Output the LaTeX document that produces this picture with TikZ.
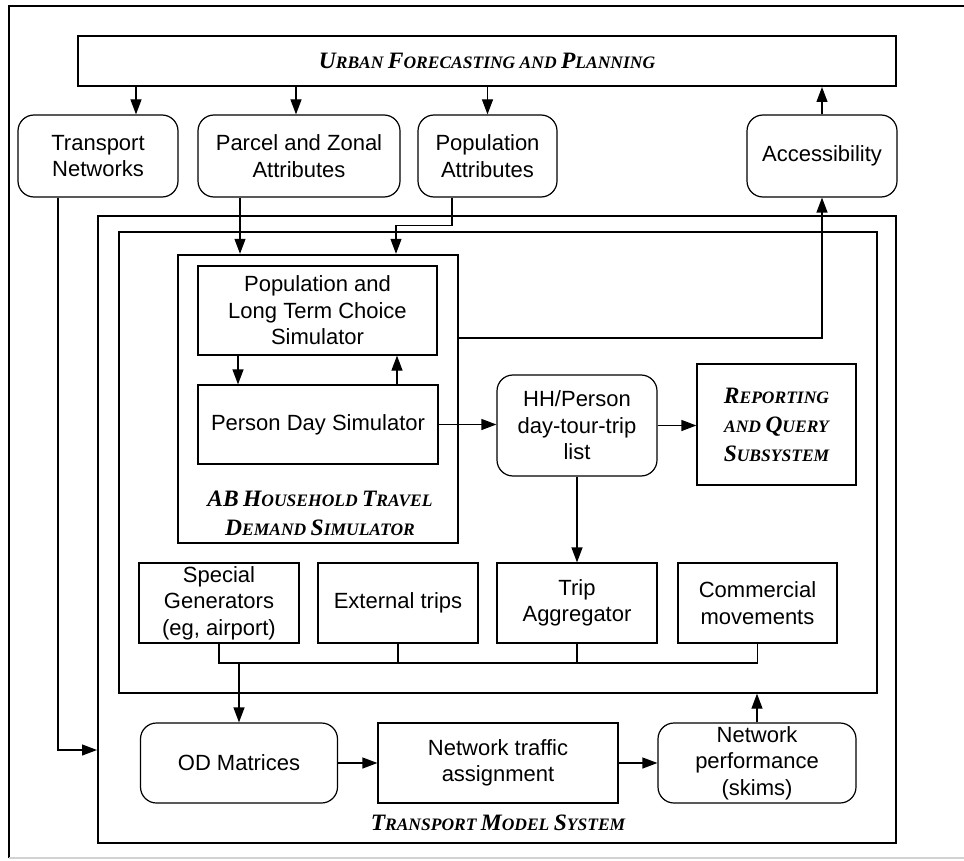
\documentclass[tikz,border=0pt]{standalone}
\usepackage{fontspec}
\setmainfont{Liberation Sans}
\newfontfamily\tfont{Liberation Serif}
\usetikzlibrary{arrows.meta,calc}
\newcommand\skc[2]{{\fontsize{23.5}{29}\selectfont #1}{\fontsize{17.5}{29}\selectfont #2}}
\begin{document}
\begin{tikzpicture}[x=1pt,y=-1pt,
  box/.style={draw,line width=1.2pt,inner sep=0pt,align=center,font=\fontsize{22}{26.5}\selectfont},
  rbox/.style={box,rounded corners=16pt},
  cont/.style={draw,inner sep=0pt},
  ttlfont/.style={font=\tfont\bfseries\itshape\fontsize{17.5}{29}\selectfont},
  ttl/.style={align=center,inner sep=0pt,ttlfont},
  conn/.style={line width=1.2pt},
  arr/.style={conn,-{Triangle[length=15pt,width=11pt]}}]
\useasboundingbox (0,0) rectangle (964,861);
% frame
\draw[line width=1.5pt] (964,6) -- (9,6) -- (9,858);
\draw[gray!35,line width=2.5pt] (9,858) -- (964,858);
% top bar
\node[box,line width=2pt,minimum width=818pt,minimum height=50pt,ttlfont] (bar) at (487,61)
  {\skc{U}{RBAN} \skc{F}{ORECASTING} \skc{}{AND} \skc{P}{LANNING}};
% top row
\node[rbox,minimum width=160pt,minimum height=82pt] (tn) at (98,156) {Transport\\Networks};
\node[rbox,minimum width=202pt,minimum height=82pt] (pz) at (299,156) {Parcel and Zonal\\Attributes};
\node[rbox,minimum width=139pt,minimum height=82pt] (pa) at (487.5,156) {Population\\Attributes};
\node[rbox,minimum width=150pt,minimum height=82pt] (acc) at (822,156) {Accessibility};
% containers
\node[cont,line width=2pt,minimum width=798pt,minimum height=627pt] (tms) at (497,529.5) {};
\node[cont,line width=1.3pt,minimum width=758pt,minimum height=461pt] (inner) at (498,462.5) {};
\node[cont,line width=2.4pt,minimum width=280pt,minimum height=288pt] (ab) at (318,399) {};
% AB contents
\node[box,minimum width=239pt,minimum height=89pt] (pop) at (317.5,310.5) {Population and\\Long Term Choice\\Simulator};
\node[box,minimum width=240pt,minimum height=79pt] (pds) at (318,424.5) {Person Day Simulator};
\node[ttl] (abt) at (320,513) {\skc{AB}{} \skc{H}{OUSEHOLD} \skc{T}{RAVEL}\\\skc{D}{EMAND} \skc{S}{IMULATOR}};
% middle
\node[rbox,minimum width=160pt,minimum height=101pt] (hh) at (577,425.5) {HH/Person\\day-tour-trip\\list};
\node[box,minimum width=159pt,minimum height=121pt,ttlfont] (rep) at (776.5,424.5)
  {\skc{R}{EPORTING}\\\skc{}{AND} \skc{Q}{UERY}\\\skc{S}{UBSYSTEM}};
% generators row
\node[box,minimum width=160pt,minimum height=80pt] (sg) at (219,603) {Special\\Generators\\(eg, airport)};
\node[box,minimum width=160pt,minimum height=80pt] (ext) at (398,603) {External trips};
\node[box,minimum width=160pt,minimum height=80pt] (ta) at (577,603) {Trip\\Aggregator};
\node[box,minimum width=159pt,minimum height=80pt] (cm) at (757.5,603) {Commercial\\movements};
% bottom row
\node[rbox,minimum width=197pt,minimum height=80pt] (od) at (239,763) {OD Matrices};
\node[box,minimum width=240pt,minimum height=80pt] (nta) at (498,763) {Network traffic\\assignment};
\node[rbox,minimum width=198pt,minimum height=80pt] (np) at (757,763) {Network\\performance\\(skims)};
\node[ttl] (tmst) at (498,823) {\skc{T}{RANSPORT} \skc{M}{ODEL} \skc{S}{YSTEM}};
% helper coordinates
\coordinate (tnY) at (0,750);
\coordinate (accY) at (0,338);
\coordinate (busY) at (0,663);
% connectors
\draw[arr] ([xshift=38pt]tn.north |- bar.south) -- ([xshift=38pt]tn.north);
\draw[arr] ([xshift=-3pt]pz.north |- bar.south) -- ([xshift=-3pt]pz.north);
\draw[arr] (pa.north |- bar.south) -- (pa.north);
\draw[arr] (acc.north) -- (acc.north |- bar.south);
\draw[arr] ([xshift=-59pt]pz.south) -- ([xshift=-59pt]pz.south |- ab.north);
\draw[arr] ([xshift=-35.5pt]pa.south) -- ++(0,28) -| ([xshift=78pt]ab.north);
\draw[arr] ([xshift=-40pt]tn.south) |- (tms.west |- tnY);
\draw[arr] (ab.east |- accY) -| (acc.south);
\draw[arr] ([xshift=-79.5pt]pop.south) -- ([xshift=-79.5pt]pop.south |- pds.north);
\draw[arr] ([xshift=79pt]pds.north) -- ([xshift=79pt]pds.north |- pop.south);
\draw[arr] (pds.east) -- (pds.east -| hh.west);
\draw[arr] (hh.east) -- (hh.east -| rep.west);
\draw[arr] (hh.south) -- (ta.north);
\draw[conn] (sg.south) |- (busY -| cm.south) -- (cm.south);
\draw[conn] (ext.south) -- (ext.south |- busY);
\draw[conn] (ta.south) -- (ta.south |- busY);
\draw[arr] (od.north |- busY) -- (od.north);
\draw[arr] (od.east) -- (nta.west);
\draw[arr] (nta.east) -- (np.west);
\draw[arr] (np.north) -- (np.north |- inner.south);
\end{tikzpicture}
\end{document}
